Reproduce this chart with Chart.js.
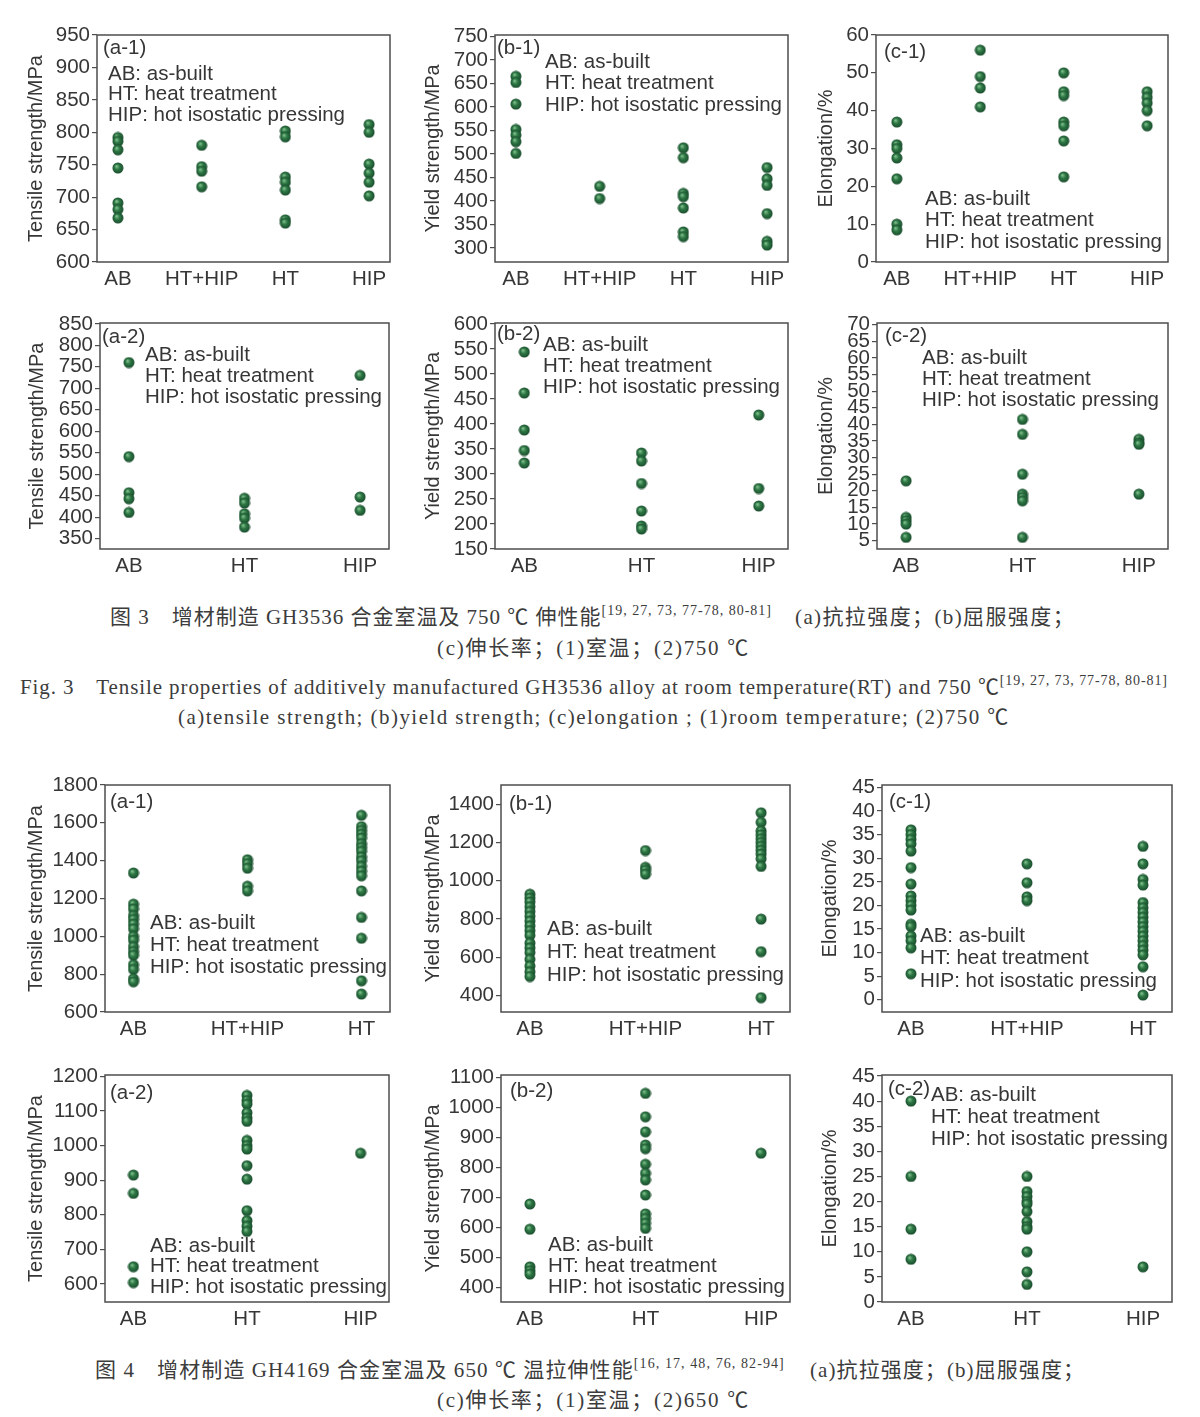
<!DOCTYPE html>
<html>
<head>
<meta charset="utf-8">
<script src="https://cdn.jsdelivr.net/npm/chart.js@4.4.1/dist/chart.umd.min.js"></script>
<style>
  body { margin: 0; background: #fff; width: 1200px; height: 1417px; position: relative; overflow: hidden; }
  canvas { position: absolute; }
  .cap { position: absolute; white-space: nowrap; font-family: "Liberation Serif", "Noto Sans CJK SC", serif; font-size: 21px; color: #3c3c3c; line-height: 22px; }
  .cap sup { font-size: 14px; vertical-align: 9px; line-height: 0; }
</style>
</head>
<body>
<div class="cap" data-w="662" style="left:110px;top:606px">图 3　增材制造 GH3536 合金室温及 750 ℃ 伸性能<sup>[19, 27, 73, 77-78, 80-81]</sup></div>
<div class="cap" data-w="280" style="left:795px;top:606px">(a)抗拉强度；(b)屈服强度；</div>
<div class="cap" data-w="313" style="left:437px;top:637px">(c)伸长率；(1)室温；(2)750 ℃</div>
<div class="cap" data-w="1148" style="left:20px;top:676px">Fig. 3　Tensile properties of additively manufactured GH3536 alloy at room temperature(RT) and 750 ℃<sup>[19, 27, 73, 77-78, 80-81]</sup></div>
<div class="cap" data-w="832" style="left:178px;top:706px">(a)tensile strength; (b)yield strength; (c)elongation ; (1)room temperature; (2)750 ℃</div>
<div class="cap" data-w="690" style="left:95px;top:1359px">图 4　增材制造 GH4169 合金室温及 650 ℃ 温拉伸性能<sup>[16, 17, 48, 76, 82-94]</sup></div>
<div class="cap" data-w="275" style="left:810px;top:1359px">(a)抗拉强度；(b)屈服强度；</div>
<div class="cap" data-w="313" style="left:437px;top:1389px">(c)伸长率；(1)室温；(2)650 ℃</div>

<script>
// categories
const cats3RT = ["AB", "HT+HIP", "HT", "HIP"];
const cats3HT = ["AB", "HT", "HIP"];
const cats4RT = ["AB", "HT+HIP", "HT"];
const cats4HT = ["AB", "HT", "HIP"];

// Fig.3 GH3536, room temperature (one list per category)
const ts3RT = [[792, 786, 773, 745, 691, 681, 668], [780, 747, 740, 716], [802, 793, 731, 723, 711, 665, 660], [812, 800, 751, 737, 723, 702]];
const ys3RT = [[665, 652, 606, 552, 540, 526, 501], [431, 405], [513, 492, 416, 409, 385, 334, 324], [471, 447, 433, 373, 314, 306]];
const el3RT = [[37, 31, 30, 27.5, 22, 10, 8.5], [56, 49, 46, 41], [50, 45, 44, 37, 36, 32, 22.5], [45, 43.5, 42, 40, 36]];
// Fig.3 GH3536, 750 C
const ts3HT = [[760, 541, 457, 443, 411], [444, 433, 408, 398, 377], [730, 447, 416]];
const ys3HT = [[544, 462, 388, 347, 322], [342, 326, 281, 226, 196, 190], [418, 271, 236]];
const el3HT = [[23, 12, 11, 10, 6], [41.5, 37, 25, 19, 18, 17, 6], [35.5, 34.5, 34, 19]];
// Fig.4 GH4169, room temperature
const ts4RT = [[1335, 1170, 1145, 1110, 1090, 1065, 1040, 1000, 980, 945, 920, 900, 850, 825, 775, 760],
  [1405, 1385, 1360, 1265, 1240],
  [1640, 1580, 1560, 1540, 1520, 1490, 1470, 1450, 1420, 1400, 1370, 1345, 1320, 1240, 1100, 990, 765, 695]];
const ys4RT = [[930, 910, 890, 865, 840, 815, 790, 765, 740, 715, 675, 650, 625, 590, 555, 525, 500],
  [1158, 1070, 1055, 1035],
  [1355, 1305, 1260, 1240, 1220, 1200, 1180, 1160, 1140, 1115, 1075, 800, 630, 390]];
const el4RT = [[36, 35, 34, 33, 31.5, 28, 24.5, 22, 21, 20, 19, 16, 15.5, 13.5, 12.5, 11, 5.5],
  [28.8, 24.8, 21.8, 21],
  [32.5, 28.8, 25.5, 24.3, 20.6, 19.5, 18.5, 17.5, 16.5, 15.5, 14.5, 13.5, 12.5, 11.5, 10.5, 9.5, 7, 1]];
// Fig.4 GH4169, 650 C
const ts4HT = [[915, 862, 650, 604], [1145, 1130, 1120, 1095, 1080, 1070, 1015, 1000, 990, 942, 903, 812, 783, 767, 752], [978]];
const ys4HT = [[678, 594, 469, 456, 445], [1046, 968, 918, 874, 862, 810, 780, 758, 708, 645, 630, 614, 597], [847]];
const el4HT = [[40, 25, 14.5, 8.5], [25, 22, 21, 20, 19.5, 18, 16, 15, 14.5, 10, 6, 3.5], [7]];

// y tick labels
const tk_ts3RT = [600, 650, 700, 750, 800, 850, 900, 950];
const tk_ys3RT = [300, 350, 400, 450, 500, 550, 600, 650, 700, 750];
const tk_el3RT = [0, 10, 20, 30, 40, 50, 60];
const tk_ts3HT = [350, 400, 450, 500, 550, 600, 650, 700, 750, 800, 850];
const tk_ys3HT = [150, 200, 250, 300, 350, 400, 450, 500, 550, 600];
const tk_el3HT = [5, 10, 15, 20, 25, 30, 35, 40, 45, 50, 55, 60, 65, 70];
const tk_ts4RT = [600, 800, 1000, 1200, 1400, 1600, 1800];
const tk_ys4RT = [400, 600, 800, 1000, 1200, 1400];
const tk_el4RT = [0, 5, 10, 15, 20, 25, 30, 35, 40, 45];
const tk_ts4HT = [600, 700, 800, 900, 1000, 1100, 1200];
const tk_ys4HT = [400, 500, 600, 700, 800, 900, 1000, 1100];
const tk_el4HT = [0, 5, 10, 15, 20, 25, 30, 35, 40, 45];

const legendLines = ["AB: as-built", "HT: heat treatment", "HIP: hot isostatic pressing"];
const TS = "Tensile strength/MPa", YS = "Yield strength/MPa", EL = "Elongation/%";

const YW = 95, PT = 14, PR = 12, XH = 36;
const FONT = "Liberation Sans";
const INK = "#363636";

const panels = [
  { box: [97, 35, 390, 262], cats: cats3RT, vals: ts3RT, y: [600, 950], ticks: tk_ts3RT, title: TS, gap: 61, tag: "(a-1)", tagAt: [6, 13], legAt: [11, 39], step: 20.5 },
  { box: [495, 35, 788, 262], cats: cats3RT, vals: ys3RT, y: [270, 753], ticks: tk_ys3RT, title: YS, gap: 62, tag: "(b-1)", tagAt: [2, 13], legAt: [50, 27], step: 21.5 },
  { box: [876, 35, 1168, 262], cats: cats3RT, vals: el3RT, y: [0, 60], ticks: tk_el3RT, title: EL, gap: 50, tag: "(c-1)", tagAt: [8, 17], legAt: [49, 164], step: 21.5 },
  { box: [100, 323, 389, 549], cats: cats3HT, vals: ts3HT, y: [326, 852], ticks: tk_ts3HT, title: TS, gap: 63, tag: "(a-2)", tagAt: [2, 14], legAt: [45, 32], step: 21 },
  { box: [495, 323, 788, 549], cats: cats3HT, vals: ys3HT, y: [150, 602], ticks: tk_ys3HT, title: YS, gap: 62, tag: "(b-2)", tagAt: [2, 11], legAt: [48, 22], step: 21 },
  { box: [877, 323, 1168, 549], cats: cats3HT, vals: el3HT, y: [2.5, 70.5], ticks: tk_el3HT, title: EL, gap: 51, tag: "(c-2)", tagAt: [8, 13], legAt: [45, 35], step: 21 },
  { box: [105, 785, 390, 1012], cats: cats4RT, vals: ts4RT, y: [600, 1800], ticks: tk_ts4RT, title: TS, gap: 69, tag: "(a-1)", tagAt: [5, 17], legAt: [45, 138], step: 22 },
  { box: [501, 785, 790, 1012], cats: cats4RT, vals: ys4RT, y: [315, 1500], ticks: tk_ys4RT, title: YS, gap: 68, tag: "(b-1)", tagAt: [8, 19], legAt: [46, 144], step: 23 },
  { box: [882, 785, 1172, 1012], cats: cats4RT, vals: el4RT, y: [-2.6, 45.5], ticks: tk_el4RT, title: EL, gap: 52, tag: "(c-1)", tagAt: [7, 17], legAt: [38, 151], step: 22.5 },
  { box: [105, 1075, 389, 1302], cats: cats4HT, vals: ts4HT, y: [548, 1204], ticks: tk_ts4HT, title: TS, gap: 69, tag: "(a-2)", tagAt: [5, 18], legAt: [45, 171], step: 20.5 },
  { box: [501, 1075, 790, 1302], cats: cats4HT, vals: ys4HT, y: [352, 1107], ticks: tk_ys4HT, title: YS, gap: 68, tag: "(b-2)", tagAt: [9, 16], legAt: [47, 170], step: 21 },
  { box: [882, 1075, 1172, 1302], cats: cats4HT, vals: el4HT, y: [0, 45.2], ticks: tk_el4HT, title: EL, gap: 52, tag: "(c-2)", tagAt: [6, 14], legAt: [49, 20], step: 22 }
];

// stretch caption lines to the width they have in the figure
document.querySelectorAll(".cap[data-w]").forEach(el => {
  const n = el.textContent.length;
  const extra = +el.dataset.w - el.getBoundingClientRect().width;
  el.style.letterSpacing = (extra / n).toFixed(2) + "px";
});

// shaded green ball used as the point style
function makeDot() {
  const c = document.createElement("canvas");
  c.width = c.height = 12;
  const g = c.getContext("2d");
  const gr = g.createRadialGradient(4.5, 4.2, 0.4, 6, 6, 5.8);
  gr.addColorStop(0, "#7fbf8c");
  gr.addColorStop(0.4, "#2f7a46");
  gr.addColorStop(1, "#17482a");
  g.fillStyle = gr;
  g.beginPath();
  g.arc(6, 6, 5.5, 0, Math.PI * 2);
  g.fill();
  return c;
}
const dot = makeDot();

const panelDecor = {
  id: "panelDecor",
  beforeDatasetsDraw(chart, args, o) {
    const { ctx, chartArea: a } = chart;
    ctx.save();
    ctx.fillStyle = INK;
    ctx.font = "20.5px '" + FONT + "'";
    ctx.textBaseline = "middle";
    ctx.fillText(o.tag, a.left + o.tagAt[0], a.top + o.tagAt[1]);
    legendLines.forEach((t, i) => ctx.fillText(t, a.left + o.legAt[0], a.top + o.legAt[1] + i * o.step));
    ctx.restore();
  },
  afterDraw(chart) {
    const { ctx, chartArea: a } = chart;
    ctx.save();
    ctx.strokeStyle = "#4d4d4d";
    ctx.lineWidth = 1.5;
    ctx.strokeRect(a.left, a.top, a.right - a.left, a.bottom - a.top);
    ctx.restore();
  }
};

panels.forEach(p => {
  const [l, t, r, b] = p.box;
  const cv = document.createElement("canvas");
  cv.width = (r - l) + YW + PR;
  cv.height = (b - t) + PT + XH;
  cv.style.left = (l - YW) + "px";
  cv.style.top = (t - PT) + "px";
  document.body.appendChild(cv);

  const pts = [];
  p.vals.forEach((list, i) => list.forEach(v => pts.push({ x: i, y: v })));

  new Chart(cv.getContext("2d"), {
    type: "scatter",
    data: {
      datasets: [{
        data: pts,
        pointStyle: dot,
        pointRadius: 6,
        pointHoverRadius: 6
      }]
    },
    options: {
      responsive: false,
      animation: false,
      layout: { padding: { top: PT, right: PR, left: 0, bottom: 0 } },
      plugins: {
        legend: { display: false },
        tooltip: { enabled: false },
        panelDecor: p
      },
      scales: {
        x: {
          type: "linear",
          min: -0.25,
          max: p.cats.length - 0.75,
          afterBuildTicks: s => { s.ticks = p.cats.map((c, i) => ({ value: i })); },
          afterFit: s => { s.height = XH; },
          grid: { display: false, drawTicks: false },
          border: { display: false },
          ticks: {
            autoSkip: false,
            maxRotation: 0,
            padding: 5,
            color: INK,
            font: { family: FONT, size: 20.5 },
            callback: v => p.cats[v]
          }
        },
        y: {
          type: "linear",
          min: p.y[0],
          max: p.y[1],
          afterBuildTicks: s => { s.ticks = p.ticks.map(v => ({ value: v })); },
          afterFit: s => { s.width = YW; },
          grid: { drawOnChartArea: false, tickLength: 5, color: "#4d4d4d", lineWidth: 1.2 },
          border: { display: false },
          ticks: {
            autoSkip: false,
            padding: 2,
            color: INK,
            font: { family: FONT, size: 20.5, lineHeight: 1 },
            callback: v => String(v)
          },
          title: {
            display: true,
            text: p.title,
            color: INK,
            font: { family: FONT, size: 20, lineHeight: 1.2 },
            padding: { top: YW - p.gap - 12, bottom: 0 }
          }
        }
      }
    },
    plugins: [panelDecor]
  });
});
</script>
</body>
</html>
